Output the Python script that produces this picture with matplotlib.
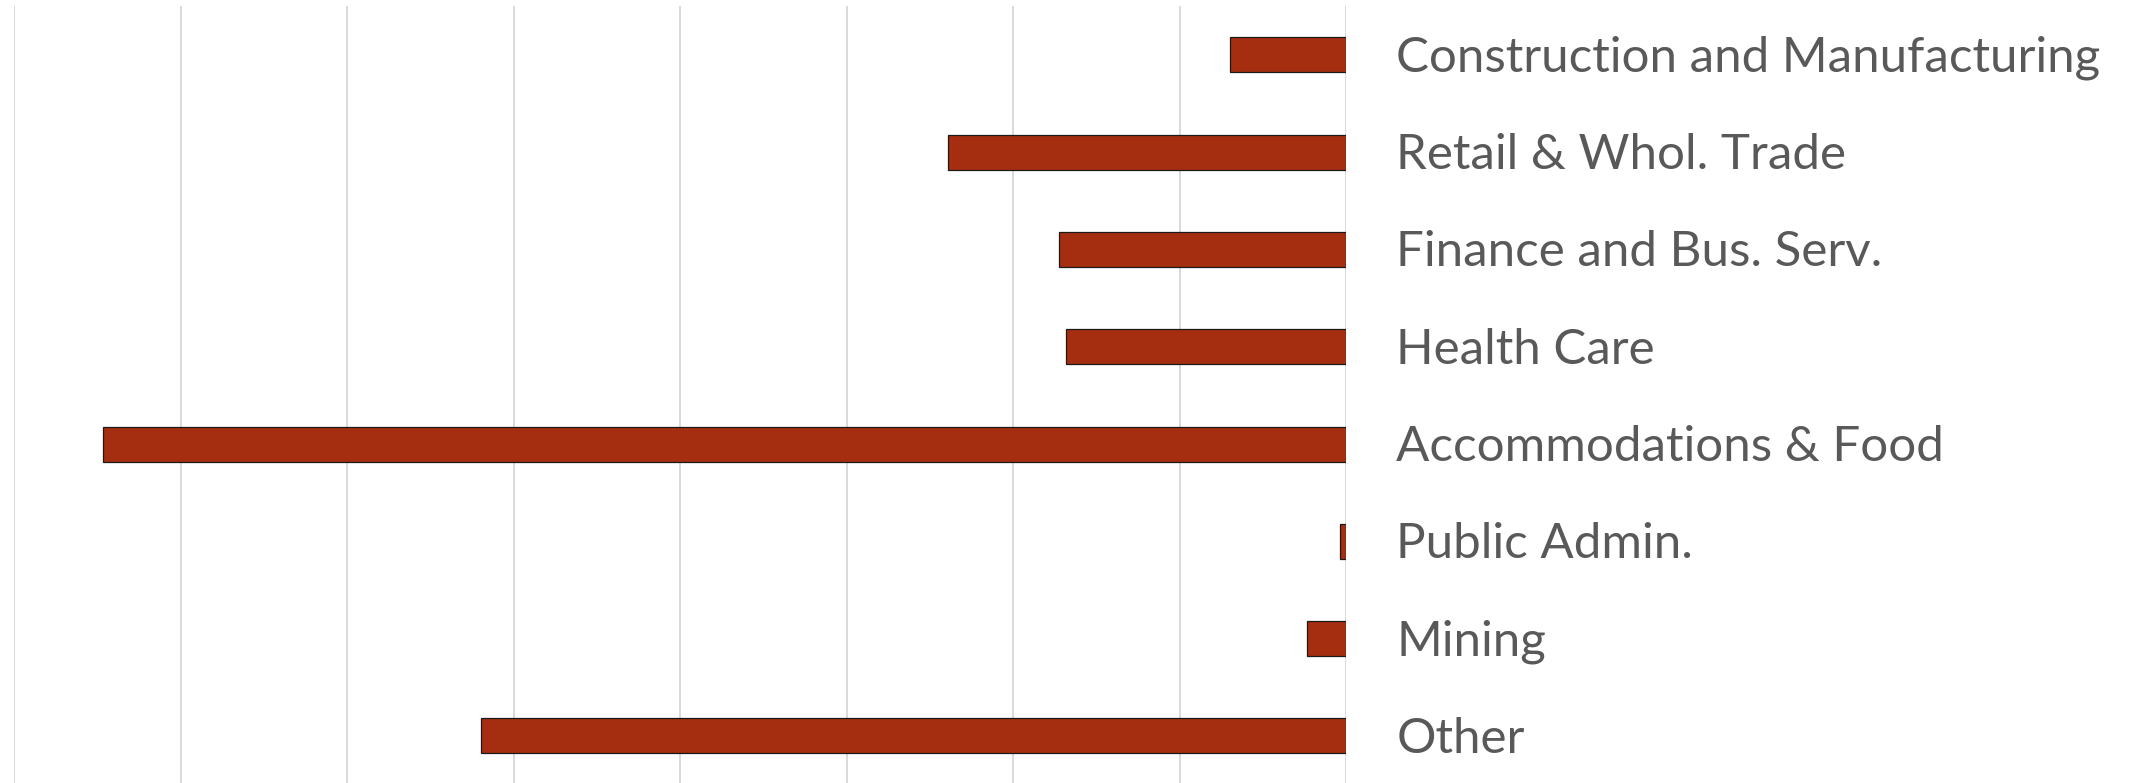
import matplotlib
matplotlib.use("Agg")
import matplotlib.pyplot as plt
import matplotlib.transforms as mtransforms

# Sector values (change, in gridline units)
sectors = [
    "Construction and Manufacturing",
    "Retail & Whol. Trade",
    "Finance and Bus. Serv.",
    "Health Care",
    "Accommodations & Food",
    "Public Admin.",
    "Mining",
    "Other",
]
values = [-0.70, -2.39, -1.727, -1.685, -7.467, -0.04, -0.236, -5.197]
grid_ticks = [-8, -7, -6, -5, -4, -3, -2, -1, 0]

W, H = 2135, 783
fig = plt.figure(figsize=(W / 100, H / 100), dpi=100)
ax = fig.add_axes([14.3 / W, -0.002, (1346.3 - 14.3) / W, 0.994])

pos = list(range(len(sectors)))
ax.barh(pos, values, height=0.36, color="#A62E10", edgecolor="#1a1a1a",
        linewidth=0.9, zorder=3)

ax.set_xlim(-8, 0)
ax.set_ylim(len(sectors) - 0.5, -0.5)
ax.set_xticks(grid_ticks)
ax.xaxis.grid(True, color="#D9D9D9", linewidth=1.4, zorder=0)
ax.tick_params(axis="x", length=0, labelbottom=False)

ax.yaxis.tick_right()
ax.set_yticks(pos)
ax.set_yticklabels(sectors, fontfamily="Lato", fontsize=35.5, color="#595959")
ax.tick_params(axis="y", length=0, pad=36)
shift = mtransforms.ScaledTranslation(0, -3 / 100, fig.dpi_scale_trans)
for lbl in ax.get_yticklabels():
    lbl.set_verticalalignment("center")
    lbl.set_transform(lbl.get_transform() + shift)

for s in ax.spines.values():
    s.set_visible(False)

fig.savefig("out.png", dpi=100, facecolor="white")
